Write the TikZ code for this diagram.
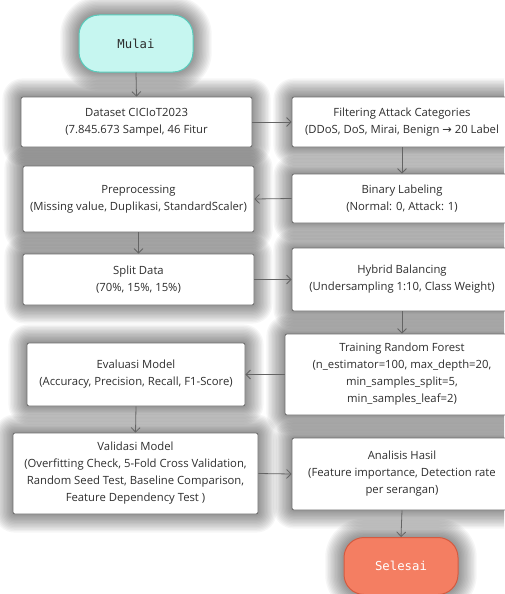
\documentclass[tikz,border=0pt]{standalone}
\usepackage{fontspec}
\setmainfont{Open Sans}
\newfontfamily\flmono{DejaVu Sans Mono}
\newfontfamily\flsym{DejaVu Sans}
\usetikzlibrary{arrows.meta,backgrounds}
\definecolor{flInk}{HTML}{2E2E2E}
\definecolor{flEdge}{HTML}{6A6A6A}
\definecolor{flArrow}{HTML}{646464}
\definecolor{flStartFill}{HTML}{C6F6F0}
\definecolor{flStartEdge}{HTML}{56CCBC}
\definecolor{flEndFill}{HTML}{F47E62}
\definecolor{flEndEdge}{HTML}{D45A40}
\tikzset{
  fl box/.style={
    draw=flEdge, fill=white, line width=.8pt, rounded corners=2pt,
    align=center, inner sep=0pt, text=flInk,
    font=\fontsize{11.3}{17}\selectfont
  },
  fl terminal/.style={
    rounded corners=20pt, line width=1pt, minimum width=114pt,
    minimum height=57pt, font=\flmono\fontsize{12.3}{14}\selectfont
  },
  fl arrow/.style={
    draw=flArrow, line width=.8pt,
    -{Straight Barb[length=4.5pt,width=9pt]}
  },
  fl glow/.style={fill=black, opacity=.036}
}
\begin{document}
\begin{tikzpicture}[x=1pt,y=-1pt]
  \useasboundingbox (0,0) rectangle (504,594);

  \node[fl terminal, draw=flStartEdge, fill=flStartFill, text=flInk] (mulai) at (136,43.5) {Mulai};

  \node[fl box, minimum width=231pt, minimum height=50pt] (dataset) at (136.5,122)
    {Dataset CICIoT2023\\(7.845.673 Sampel, 46 Fitur};
  \node[fl box, minimum width=220pt, minimum height=50pt] (filter) at (402,122)
    {Filtering Attack Categories\\(DDoS, DoS, Mirai, Benign {\flsym →} 20 Label};
  \node[fl box, minimum width=220pt, minimum height=49pt] (binary) at (402,198.5)
    {Binary Labeling\\(Normal: 0, Attack: 1)};
  \node[fl box, minimum width=231pt, minimum height=66pt] (preproc) at (138.5,199)
    {Preprocessing\\(Missing value, Duplikasi, StandardScaler)};
  \node[fl box, minimum width=231pt, minimum height=51pt] (split) at (138.5,279.5)
    {Split Data\\(70\%, 15\%, 15\%)};
  \node[fl box, minimum width=220pt, minimum height=63pt] (hybrid) at (402,279.5)
    {Hybrid Balancing\\(Undersampling 1:10, Class Weight)};
  \node[fl box, minimum width=234pt, minimum height=81pt] (training) at (402,374.5)
    {Training Random Forest\\(n\_estimator=100, max\_depth=20,\\min\_samples\_split=5,\\min\_samples\_leaf=2)};
  \node[fl box, minimum width=218pt, minimum height=63pt] (evaluasi) at (136,374.5)
    {Evaluasi Model\\(Accuracy, Precision, Recall, F1-Score)};
  \node[fl box, minimum width=245pt, minimum height=81pt] (validasi) at (135.5,473.5)
    {Validasi Model\\(Overfitting Check, 5-Fold Cross Validation,\\Random Seed Test, Baseline Comparison,\\Feature Dependency Test )};
  \node[fl box, minimum width=220pt, minimum height=72pt] (analisis) at (402,474)
    {Analisis Hasil\\(Feature importance, Detection rate\\per serangan)};

  \node[fl terminal, draw=flEndEdge, fill=flEndFill, text=white] (selesai) at (401,566) {Selesai};

  % bayangan lembut
  \begin{scope}[on background layer]
    \fill[white] (0,0) rectangle (504,594);
    \clip (0,0) rectangle (504,594);
    \foreach \n in {dataset,filter,binary,preproc,split,hybrid,training,evaluasi,validasi,analisis}
      \foreach \g in {1,...,13}
        \fill[fl glow, rounded corners=2pt+\g*1.4pt]
          ([shift={(-\g*1.4pt,-\g*1.4pt)}]\n.south west) rectangle ([shift={(\g*1.4pt,\g*1.4pt)}]\n.north east);
    \foreach \n in {mulai,selesai}
      \foreach \g in {1,...,13}
        \fill[fl glow, rounded corners=20pt+\g*1.4pt]
          ([shift={(-\g*1.4pt,-\g*1.4pt)}]\n.south west) rectangle ([shift={(\g*1.4pt,\g*1.4pt)}]\n.north east);
  \end{scope}

  % alur
  \draw[fl arrow] (mulai.south) -- (dataset.north);
  \draw[fl arrow] (dataset.east) -- (filter.west);
  \draw[fl arrow] (filter.south) -- (binary.north);
  \draw[fl arrow] (binary.west) -- (preproc.east);
  \draw[fl arrow] (preproc.south) -- (split.north);
  \draw[fl arrow] (split.east) -- (hybrid.west);
  \draw[fl arrow] (hybrid.south) -- (training.north);
  \draw[fl arrow] (training.west) -- (evaluasi.east);
  \draw[fl arrow] (evaluasi.south) -- (validasi.north);
  \draw[fl arrow] (validasi.east) -- (analisis.west);
  \draw[fl arrow] (analisis.south) -- (selesai.north);
\end{tikzpicture}
\end{document}
